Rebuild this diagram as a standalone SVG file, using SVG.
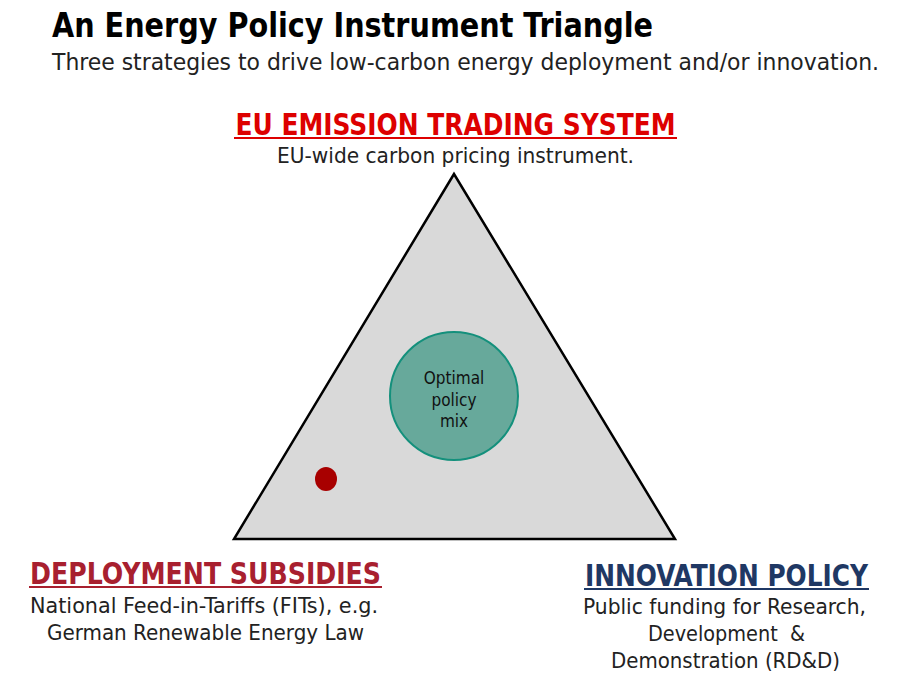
<svg xmlns="http://www.w3.org/2000/svg" width="897" height="680" viewBox="0 0 897 680">
<style>
text{font-family:"DejaVu Sans Condensed","Liberation Sans Narrow","Liberation Sans",sans-serif}
.title{font-size:34px;font-weight:bold;fill:#000}
.sub{font-size:23px;fill:#222}
.head{font-size:29.5px;font-weight:bold;text-anchor:middle}
.desc{font-size:21px;fill:#222;text-anchor:middle}
.mid{font-size:17px;fill:#111;text-anchor:middle}
</style>
<rect width="897" height="680" fill="#fff"/>
<g id="header">
<text class="title" x="52" y="37" textLength="601" lengthAdjust="spacingAndGlyphs">An Energy Policy Instrument Triangle</text>
<text class="sub" x="52" y="70" textLength="827" lengthAdjust="spacingAndGlyphs">Three strategies to drive low-carbon energy deployment and/or innovation.</text>
</g>
<g id="triangle">
<polygon points="454,174 234,539 675,539" fill="#d9d9d9" stroke="#000" stroke-width="2.5" stroke-linejoin="miter"/>
</g>
<g id="optimal-mix">
<circle cx="454" cy="396" r="64" fill="#67a99b" stroke="#14907c" stroke-width="2"/>
<text class="mid" x="454" y="384">Optimal</text>
<text class="mid" x="454" y="406">policy</text>
<text class="mid" x="454" y="427">mix</text>
</g>
<g id="red-dot">
<ellipse cx="326" cy="479" rx="11" ry="12" fill="#a80000"/>
</g>
<g id="eu-ets">
<text class="head" x="455.5" y="135" fill="#dd0000" textLength="440" lengthAdjust="spacingAndGlyphs">EU EMISSION TRADING SYSTEM</text>
<rect x="234" y="137" width="443" height="2" fill="#dd0000"/>
<text class="desc" x="455.5" y="163" textLength="357" lengthAdjust="spacingAndGlyphs">EU-wide carbon pricing instrument.</text>
</g>
<g id="deployment">
<text class="head" x="205.5" y="584" fill="#a8202f" textLength="351" lengthAdjust="spacingAndGlyphs">DEPLOYMENT SUBSIDIES</text>
<rect x="29" y="586" width="353" height="2" fill="#a8202f"/>
<text class="desc" x="204" y="613" textLength="348" lengthAdjust="spacingAndGlyphs">National Feed-in-Tariffs (FITs), e.g.</text>
<text class="desc" x="205.5" y="640" textLength="317" lengthAdjust="spacingAndGlyphs">German Renewable Energy Law</text>
</g>
<g id="innovation">
<text class="head" x="726.5" y="586" fill="#1f3864" textLength="283" lengthAdjust="spacingAndGlyphs">INNOVATION POLICY</text>
<rect x="584" y="588" width="285" height="2" fill="#1f3864"/>
<text class="desc" x="724.5" y="614" textLength="283" lengthAdjust="spacingAndGlyphs">Public funding for Research,</text>
<text class="desc" x="726.5" y="641" textLength="157" lengthAdjust="spacingAndGlyphs">Development&#160; &amp;</text>
<text class="desc" x="725.5" y="668" textLength="229" lengthAdjust="spacingAndGlyphs">Demonstration (RD&amp;D)</text>
</g>
<g id="connectors"></g>
</svg>
